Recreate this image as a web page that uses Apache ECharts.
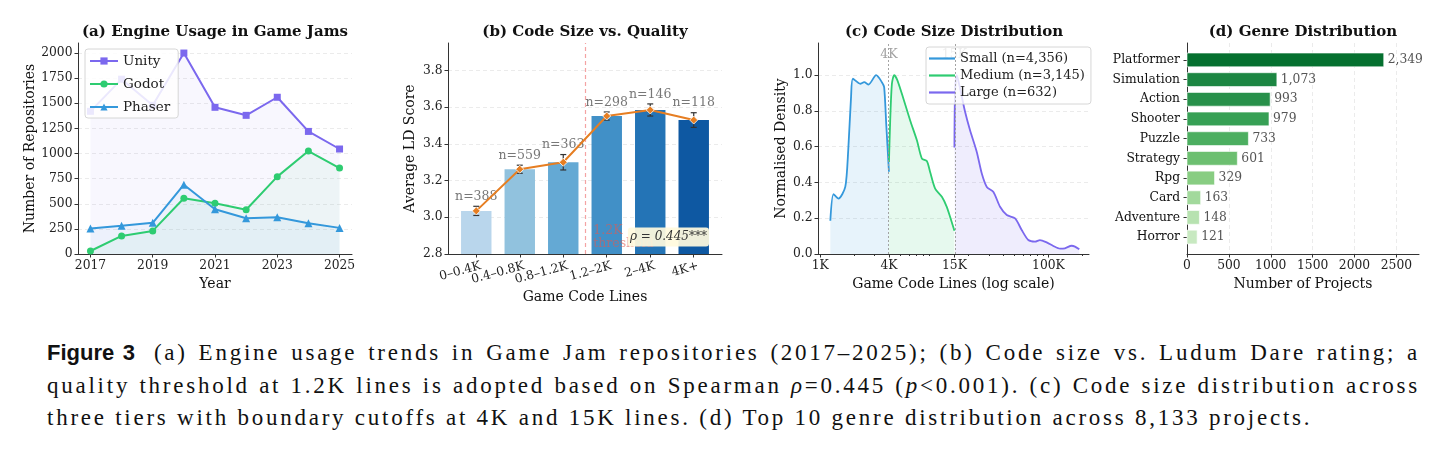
<!DOCTYPE html>
<html>
<head>
<meta charset="utf-8">
<script src="https://cdn.jsdelivr.net/npm/echarts@6/dist/echarts.min.js"></script>
<style>
  html, body { margin: 0; padding: 0; background: #fff; }
  #wrap { position: relative; width: 1447px; height: 450px; overflow: hidden; }
  #chart { position: absolute; left: 0; top: 0; width: 1447px; height: 320px; }
  #caption {
    position: absolute; left: 47px; top: 337px; width: 1373px;
    font-family: 'Liberation Serif', serif; font-size: 23px; line-height: 32.5px;
    color: #111; letter-spacing: 2.75px;
  }
  #caption div { text-align: justify; text-align-last: justify; }
  #caption div.last { text-align-last: left; }
  #caption b { font-family: 'Liberation Sans', sans-serif; font-weight: bold; font-size: 22px; letter-spacing: 0; margin-right: 8px; }
</style>
</head>
<body>
<div id="wrap">
  <div id="chart"></div>
  <div id="caption">
    <div><b>Figure 3</b> (a) Engine usage trends in Game Jam repositories (2017–2025); (b) Code size vs. Ludum Dare rating; a</div>
    <div>quality threshold at 1.2K lines is adopted based on Spearman <i>ρ</i>=0.445 (<i>p</i>&lt;0.001). (c) Code size distribution across</div>
    <div class="last">three tiers with boundary cutoffs at 4K and 15K lines. (d) Top 10 genre distribution across 8,133 projects.</div>
  </div>
</div>
<script>
  // (a) engine usage
  const years = [2017, 2018, 2019, 2020, 2021, 2022, 2023, 2024, 2025]
  const unityRepos = [1420, 1740, 1480, 2000, 1460, 1380, 1560, 1220, 1045]
  const godotRepos = [30, 180, 230, 555, 505, 440, 770, 1025, 855]
  const phaserRepos = [255, 280, 310, 690, 445, 355, 365, 305, 260]
  const yearTicks = [2017, 2019, 2021, 2023, 2025]
  const repoTicks = [0, 250, 500, 750, 1000, 1250, 1500, 1750, 2000]

  // (b) code size vs quality
  const sizeBins = ['0–0.4K', '0.4–0.8K', '0.8–1.2K', '1.2–2K', '2–4K', '4K+']
  const binCounts = [388, 559, 363, 298, 146, 118]
  const ldScore = [3.035, 3.262, 3.300, 3.552, 3.585, 3.530]
  const ldErr = [0.025, 0.022, 0.042, 0.022, 0.033, 0.040]
  const scoreTicks = [2.8, 3.0, 3.2, 3.4, 3.6, 3.8]

  // (c) code size distribution (lines of code, normalised density)
  const smallLines = [1225, 1306, 1445, 1656, 1758, 1862, 1932, 2239, 2427, 2649, 3090, 3467, 3631, 3784, 4000]
  const smallDensity = [0.186, 0.335, 0.31, 0.375, 0.58, 0.88, 0.98, 0.952, 0.961, 0.948, 1.0, 0.961, 0.933, 0.73, 0.46]
  const mediumLines = [4000, 4102, 4246, 4446, 4753, 5358, 6138, 7031, 7780, 8590, 9183, 10162, 11641, 12853, 13740, 15000]
  const mediumDensity = [0.515, 0.747, 0.952, 1.0, 0.97, 0.868, 0.747, 0.636, 0.534, 0.52, 0.459, 0.366, 0.32, 0.264, 0.208, 0.13]
  const largeLines = [15000, 15205, 15740, 16827, 18621, 20559, 23550, 26062, 28840, 32961, 37670, 43152, 51050, 58345, 66680, 76380, 84330, 96605, 110400, 126500, 139600, 160000, 171000, 186600]
  const largeDensity = [0.595, 0.915, 1.0, 0.924, 0.794, 0.692, 0.571, 0.45, 0.375, 0.347, 0.264, 0.218, 0.199, 0.134, 0.078, 0.069, 0.078, 0.065, 0.045, 0.03, 0.032, 0.046, 0.041, 0.026]
  const tierNames = ['Small (n=4,356)', 'Medium (n=3,145)', 'Large (n=632)']
  const tierCuts = [4000, 15000]
  const lineTicks = [1000, 4000, 15000, 100000]
  const lineMinorTicks = [2000, 3000, 5000, 6000, 7000, 8000, 9000, 20000, 30000, 40000, 50000, 60000, 70000, 80000, 90000, 200000]
  const densityTicks = [0, 0.2, 0.4, 0.6, 0.8, 1.0]

  // (d) genre distribution
  const genres = ['Platformer', 'Simulation', 'Action', 'Shooter', 'Puzzle', 'Strategy', 'Rpg', 'Card', 'Adventure', 'Horror']
  const genreCounts = [2349, 1073, 993, 979, 733, 601, 329, 163, 148, 121]
  const projectTicks = [0, 500, 1000, 1500, 2000, 2500]

  const serif = 'DejaVu Serif'
  const blues = ['#b9d6ec', '#91c2de', '#64a9d4', '#4190c7', '#2474b6', '#0e58a2']
  const greens = ['#05702f', '#1c8642', '#28904a', '#37a055', '#4cae60', '#6cbf70', '#88cd82', '#a2d99c', '#b7e2b0', '#c8e9c1']

  const grids = [
    { left: 78, top: 43, width: 274, height: 211 },
    { left: 448, top: 43, width: 274, height: 211 },
    { left: 818, top: 43, width: 271, height: 211 },
    { left: 1187, top: 43, width: 232, height: 211 }
  ]

  let merge = (base, extra) => {
    const out = Object.assign({}, base)
    for (const k in extra) {
      if (extra[k] && typeof extra[k] === 'object' && !Array.isArray(extra[k]) && base[k] && typeof base[k] === 'object') {
        out[k] = Object.assign({}, base[k], extra[k])
      } else {
        out[k] = extra[k]
      }
    }
    return out
  }
  const axisBase = {
    type: 'value',
    nameLocation: 'middle',
    nameTextStyle: { color: '#111', fontFamily: serif, fontSize: 14 },
    axisLine: { show: true, onZero: false, lineStyle: { color: '#333', width: 1 } },
    axisTick: { show: true, length: 3.5, lineStyle: { color: '#333', width: 1 } },
    axisLabel: { color: '#222', fontFamily: serif, fontSize: 12.3, margin: 5.5, showMinLabel: true, showMaxLabel: true },
    splitLine: { show: false }
  }
  const gridLine = { show: true, lineStyle: { color: '#e6e6e6', type: [4, 3], width: 0.8 } }
  const log10 = v => Math.log10(v)
  const titleFont = 'bold 15px "DejaVu Serif"'

  var option = {
    animation: false,
    grid: grids,
    graphic: [
      { type: 'text', x: 215, y: 32, style: { text: '(a) Engine Usage in Game Jams', font: titleFont, fill: '#111', textAlign: 'center', textVerticalAlign: 'middle' } },
      { type: 'text', x: 585, y: 32, style: { text: '(b) Code Size vs. Quality', font: titleFont, fill: '#111', textAlign: 'center', textVerticalAlign: 'middle' } },
      { type: 'text', x: 954, y: 32, style: { text: '(c) Code Size Distribution', font: titleFont, fill: '#111', textAlign: 'center', textVerticalAlign: 'middle' } },
      { type: 'text', x: 1303, y: 32, style: { text: '(d) Genre Distribution', font: titleFont, fill: '#111', textAlign: 'center', textVerticalAlign: 'middle' } },
      { type: 'text', x: 709, y: 237, z: 100, style: { text: 'ρ = 0.445***', font: 'italic 12px "DejaVu Serif"', fill: '#333', textAlign: 'right', textVerticalAlign: 'middle', backgroundColor: 'rgba(255,250,222,0.93)', padding: [4, 2, 3, 2], borderRadius: 3 } }
    ],
    legend: [
      {
        data: ['Unity', 'Godot', 'Phaser'], orient: 'vertical', left: 85, top: 49,
        itemWidth: 28, itemHeight: 9, itemGap: 9, padding: [5, 8, 4, 4],
        backgroundColor: 'rgba(255,255,255,0.85)', borderColor: '#d6d6d6', borderWidth: 1, borderRadius: 3,
        textStyle: { fontFamily: serif, fontSize: 13.5, color: '#222' }
      },
      {
        data: tierNames.map(n => ({ name: n, icon: 'rect' })), orient: 'vertical', left: 926, top: 47,
        itemWidth: 26, itemHeight: 2.2, itemGap: 4, padding: [5, 6, 5, 3],
        backgroundColor: 'rgba(255,255,255,0.8)', borderColor: '#d6d6d6', borderWidth: 1, borderRadius: 3,
        textStyle: { fontFamily: serif, fontSize: 13, color: '#222' }
      }
    ],
    xAxis: [
      merge(axisBase, {
        gridIndex: 0, min: 2016.6, max: 2025.4, name: 'Year', nameGap: 22,
        axisTick: { customValues: yearTicks }, axisLabel: { customValues: yearTicks, formatter: v => String(v), margin: 6 }
      }),
      merge(axisBase, {
        gridIndex: 1, min: -0.65, max: 5.65, name: 'Game Code Lines', nameGap: 36,
        axisTick: { customValues: [0, 1, 2, 3, 4, 5] },
        axisLabel: { show: false }
      }),
      merge(axisBase, {
        gridIndex: 2, min: 2.98, max: 5.356, name: 'Game Code Lines (log scale)', nameGap: 22,
        axisTick: { customValues: lineTicks.map(log10) },
        axisLabel: { customValues: lineTicks.map(log10), formatter: v => Math.round(Math.pow(10, v) / 1000) + 'K', margin: 6 }
      }),
      merge(axisBase, {
        gridIndex: 3, min: 0, max: 2770, name: 'Number of Projects', nameGap: 21,
        axisTick: { customValues: projectTicks }, axisLabel: { customValues: projectTicks, formatter: v => String(v), margin: 6 },
        splitLine: gridLine
      }),
      merge(axisBase, {
        gridIndex: 2, min: 2.98, max: 5.356, position: 'bottom',
        axisLine: { show: false }, axisLabel: { show: false },
        axisTick: { customValues: lineMinorTicks.map(log10), length: 2 }
      })
    ],
    yAxis: [
      merge(axisBase, {
        gridIndex: 0, min: 0, max: 2100, name: 'Number of Repositories', nameGap: 40,
        axisTick: { customValues: repoTicks }, axisLabel: { customValues: repoTicks, formatter: v => String(v) },
        splitLine: gridLine
      }),
      merge(axisBase, {
        gridIndex: 1, min: 2.8, max: 3.95, name: 'Average LD Score', nameGap: 31,
        axisTick: { customValues: scoreTicks }, axisLabel: { customValues: scoreTicks, formatter: v => v.toFixed(1) },
        splitLine: gridLine
      }),
      merge(axisBase, {
        gridIndex: 2, min: 0, max: 1.18, name: 'Normalised Density', nameGap: 30,
        axisTick: { customValues: densityTicks }, axisLabel: { customValues: densityTicks, formatter: v => v.toFixed(1) },
        splitLine: gridLine
      }),
      merge(axisBase, {
        gridIndex: 3, min: -0.86, max: 9.86, inverse: true,
        axisTick: { customValues: [0, 1, 2, 3, 4, 5, 6, 7, 8, 9] },
        axisLabel: { customValues: [0, 1, 2, 3, 4, 5, 6, 7, 8, 9], formatter: v => genres[Math.round(v)], margin: 7, color: '#111' }
      })
    ],
    series: [
      // (a)
      {
        name: 'Unity', type: 'line', xAxisIndex: 0, yAxisIndex: 0,
        data: years.map((y, i) => [y, unityRepos[i]]),
        symbol: 'rect', symbolSize: 7, color: '#7b68ee',
        lineStyle: { width: 2 }, areaStyle: { color: 'rgba(123,104,238,0.08)' }
      },
      {
        name: 'Godot', type: 'line', xAxisIndex: 0, yAxisIndex: 0,
        data: years.map((y, i) => [y, godotRepos[i]]),
        symbol: 'circle', symbolSize: 7, color: '#2ecc71',
        lineStyle: { width: 2 }, areaStyle: { color: 'rgba(46,204,113,0.08)' }
      },
      {
        name: 'Phaser', type: 'line', xAxisIndex: 0, yAxisIndex: 0,
        data: years.map((y, i) => [y, phaserRepos[i]]),
        symbol: 'triangle', symbolSize: 8, color: '#3498db',
        lineStyle: { width: 2 }, areaStyle: { color: 'rgba(52,152,219,0.08)' }
      },
      // (b) bars
      {
        type: 'custom', xAxisIndex: 1, yAxisIndex: 1, clip: true,
        data: ldScore.map((v, i) => [i, v]),
        renderItem: (params, api) => {
          const i = api.value(0)
          const top = api.coord([i, api.value(1)])
          const base = api.coord([i, scoreTicks[0]])
          const w = api.size([0.7, 0])[0]
          return {
            type: 'rect',
            shape: { x: top[0] - w / 2, y: top[1], width: w, height: base[1] - top[1] },
            style: { fill: blues[i] }
          }
        }
      },
      // (b) rotated category labels under the axis
      {
        type: 'custom', xAxisIndex: 1, yAxisIndex: 1, silent: true,
        data: sizeBins.map((b, i) => [i, scoreTicks[0]]),
        renderItem: (params, api) => {
          const i = api.value(0)
          const p = api.coord([i, api.value(1)])
          return {
            type: 'text', x: p[0] + 3, y: p[1] + 6, rotation: 15 * Math.PI / 180,
            style: { text: sizeBins[i], font: '12.3px "DejaVu Serif"', fill: '#222', textAlign: 'right', textVerticalAlign: 'top' }
          }
        }
      },
      // (b) error bars and counts
      {
        type: 'custom', xAxisIndex: 1, yAxisIndex: 1, z: 4,
        data: ldScore.map((v, i) => [i, v, ldErr[i], binCounts[i]]),
        renderItem: (params, api) => {
          const i = api.value(0), v = api.value(1), e = api.value(2)
          const hi = api.coord([i, v + e])
          const lo = api.coord([i, v - e])
          const st = { stroke: '#333', lineWidth: 1.2 }
          return {
            type: 'group',
            children: [
              { type: 'line', shape: { x1: hi[0], y1: hi[1], x2: lo[0], y2: lo[1] }, style: st },
              { type: 'line', shape: { x1: hi[0] - 3, y1: hi[1], x2: hi[0] + 3, y2: hi[1] }, style: st },
              { type: 'line', shape: { x1: lo[0] - 3, y1: lo[1], x2: lo[0] + 3, y2: lo[1] }, style: st },
              { type: 'text', x: hi[0], y: hi[1] - 3, style: { text: 'n=' + api.value(3), font: '12.5px "DejaVu Serif"', fill: '#777', textAlign: 'center', textVerticalAlign: 'bottom' } }
            ]
          }
        }
      },
      // (b) trend line
      {
        type: 'line', xAxisIndex: 1, yAxisIndex: 1, z: 5,
        data: ldScore.map((v, i) => [i, v]),
        symbol: 'diamond', symbolSize: 8, color: '#e67e22',
        itemStyle: { borderColor: '#fff', borderWidth: 0.8 },
        lineStyle: { width: 2 },
        markLine: {
          silent: true, symbol: 'none', label: { show: false },
          lineStyle: { color: '#f4a3a3', type: [4, 3], width: 1.2 },
          data: [{ xAxis: 2.5 }]
        }
      },
      {
        type: 'scatter', xAxisIndex: 1, yAxisIndex: 1, symbolSize: 0, z: 6,
        data: [[2.69, 2.822]],
        label: {
          show: true, position: [0, 0], align: 'left', verticalAlign: 'bottom',
          formatter: '1.2K\nthreshold', color: 'rgba(226,90,80,0.75)', fontFamily: serif, fontSize: 12.5, lineHeight: 13
        }
      },
      // (c)
      {
        name: tierNames[0], type: 'line', xAxisIndex: 2, yAxisIndex: 2,
        data: smallLines.map((x, i) => [log10(x), smallDensity[i]]),
        smooth: 0.25, symbol: 'none', color: '#3498db',
        lineStyle: { width: 1.8 }, areaStyle: { color: 'rgba(52,152,219,0.17)' },
        markLine: {
          silent: true, symbol: 'none', label: { show: false },
          lineStyle: { color: '#9a9a9a', type: [2, 2], width: 0.9 },
          data: tierCuts.map(c => ({ xAxis: log10(c) }))
        }
      },
      {
        name: tierNames[1], type: 'line', xAxisIndex: 2, yAxisIndex: 2,
        data: mediumLines.map((x, i) => [log10(x), mediumDensity[i]]),
        smooth: 0.25, symbol: 'none', color: '#2ecc71',
        lineStyle: { width: 1.8 }, areaStyle: { color: 'rgba(46,204,113,0.17)' }
      },
      {
        name: tierNames[2], type: 'line', xAxisIndex: 2, yAxisIndex: 2,
        data: largeLines.map((x, i) => [log10(x), largeDensity[i]]),
        smooth: 0.25, symbol: 'none', color: '#7b68ee',
        lineStyle: { width: 1.8 }, areaStyle: { color: 'rgba(123,104,238,0.17)' }
      },
      {
        type: 'scatter', xAxisIndex: 2, yAxisIndex: 2, symbolSize: 0,
        data: tierCuts.map(c => [log10(c), 1.115, Math.round(c / 1000) + 'K']),
        label: {
          show: true, position: [0, 0], align: 'center', verticalAlign: 'middle',
          formatter: p => p.value[2], color: '#888', fontFamily: serif, fontSize: 12.5
        }
      },
      // (d)
      {
        type: 'custom', xAxisIndex: 3, yAxisIndex: 3,
        data: genreCounts.map((v, i) => [v, i]),
        renderItem: (params, api) => {
          const v = api.value(0), i = api.value(1)
          const end = api.coord([v, i])
          const start = api.coord([0, i])
          const h = api.size([0, 0.7])[1]
          return {
            type: 'group',
            children: [
              { type: 'rect', shape: { x: start[0], y: end[1] - h / 2, width: end[0] - start[0], height: h }, style: { fill: greens[i], stroke: '#fff', lineWidth: 0.6 } },
              { type: 'text', x: end[0] + 4, y: end[1], style: { text: v.toLocaleString('en-US'), font: '12.3px "DejaVu Serif"', fill: '#555', textAlign: 'left', textVerticalAlign: 'middle' } }
            ]
          }
        }
      }
    ]
  }

  let chart = echarts.init(document.getElementById('chart'))
  chart.setOption(option)
  window.onresize = () => {
    chart.resize()
  }
</script>
</body>
</html>
